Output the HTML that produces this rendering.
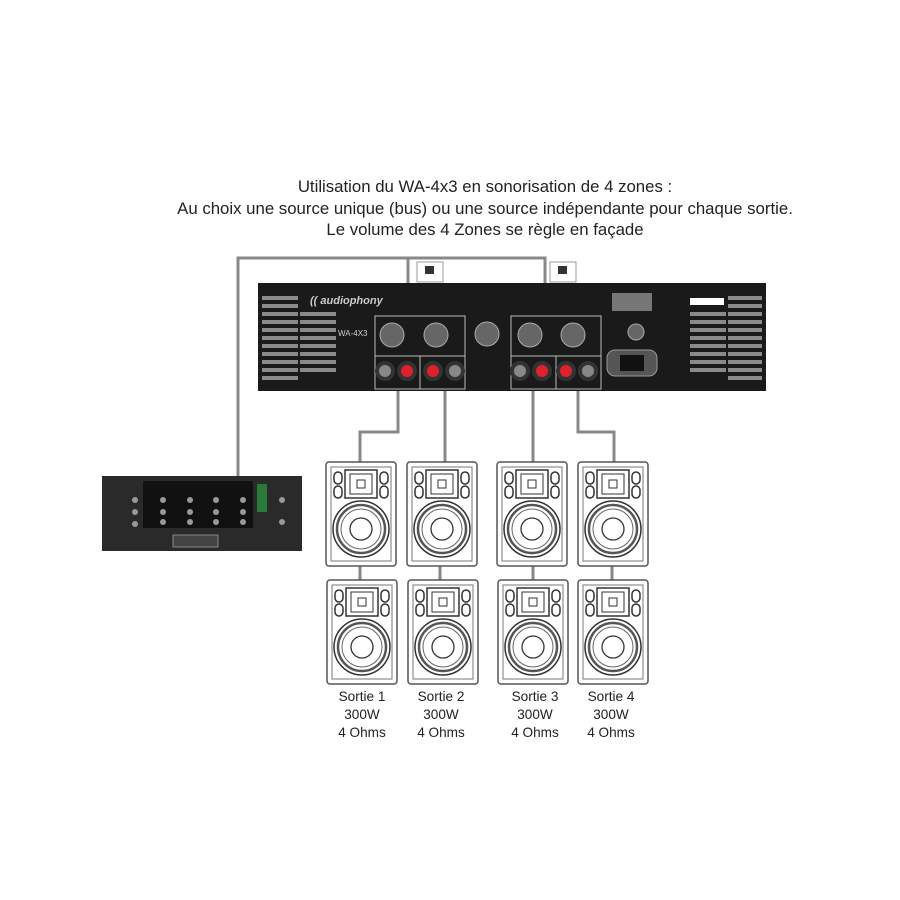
<!DOCTYPE html>
<html><head><meta charset="utf-8"><style>
body{margin:0;background:#fff;}
svg{display:block;font-family:"Liberation Sans",sans-serif;}
</style></head><body>
<svg width="900" height="900" viewBox="0 0 900 900">
<defs>
<g id="spk">
<rect x="0" y="0" width="70" height="104" rx="3" fill="#fff" stroke="#555" stroke-width="1.5"/>
<rect x="5" y="5" width="60" height="94" fill="none" stroke="#777" stroke-width="1"/>
<rect x="19" y="8" width="32" height="28" fill="none" stroke="#333" stroke-width="1.5"/>
<rect x="24" y="12" width="22" height="20" fill="none" stroke="#333" stroke-width="1"/>
<rect x="31" y="18" width="8" height="8" fill="none" stroke="#333" stroke-width="1"/>
<rect x="8" y="10" width="8" height="12" rx="4" fill="none" stroke="#333" stroke-width="1.5"/>
<rect x="8" y="24" width="8" height="12" rx="4" fill="none" stroke="#333" stroke-width="1.5"/>
<rect x="54" y="10" width="8" height="12" rx="4" fill="none" stroke="#333" stroke-width="1.5"/>
<rect x="54" y="24" width="8" height="12" rx="4" fill="none" stroke="#333" stroke-width="1.5"/>
<circle cx="35" cy="67" r="28" fill="none" stroke="#333" stroke-width="1.5"/>
<circle cx="35" cy="67" r="24" fill="none" stroke="#555" stroke-width="2.5"/>
<circle cx="35" cy="67" r="20" fill="none" stroke="#666" stroke-width="1"/>
<circle cx="35" cy="67" r="11" fill="none" stroke="#333" stroke-width="1.3"/>
</g>
</defs>
<g font-size="16.8" fill="#222" text-anchor="middle">
<text x="485" y="192">Utilisation du WA-4x3 en sonorisation de 4 zones :</text>
<text x="485" y="214">Au choix une source unique (bus) ou une source indépendante pour chaque sortie.</text>
<text x="485" y="235">Le volume des 4 Zones se règle en façade</text>
</g>
<!-- wires -->
<g fill="none" stroke="#888" stroke-width="3">
<path d="M238 478 V258 H408 V318"/>
<path d="M408 258 H545 V318"/>
<path d="M398 391 V432 H360 V462"/>
<path d="M445 391 V462"/>
<path d="M533 391 V462"/>
<path d="M578 391 V432 H614 V462"/>
<path d="M360 566 V580 M440 566 V580 M533 566 V580 M612 566 V580"/>
</g>
<!-- switches -->
<rect x="417" y="262" width="26" height="20" fill="#fff" stroke="#999"/>
<rect x="425" y="266" width="9" height="8" fill="#333"/>
<rect x="550" y="262" width="26" height="20" fill="#fff" stroke="#999"/>
<rect x="558" y="266" width="9" height="8" fill="#333"/>
<!-- amp -->
<rect x="258" y="283" width="508" height="108" fill="#1a1a1a"/>
<g fill="#8a8a8a">
<rect x="262" y="296" width="36" height="4"/><rect x="262" y="304" width="36" height="4"/><rect x="262" y="312" width="36" height="4"/><rect x="262" y="320" width="36" height="4"/><rect x="262" y="328" width="36" height="4"/><rect x="262" y="336" width="36" height="4"/><rect x="262" y="344" width="36" height="4"/><rect x="262" y="352" width="36" height="4"/><rect x="262" y="360" width="36" height="4"/><rect x="262" y="368" width="36" height="4"/><rect x="262" y="376" width="36" height="4"/>
<rect x="300" y="312" width="36" height="4"/><rect x="300" y="320" width="36" height="4"/><rect x="300" y="328" width="36" height="4"/><rect x="300" y="336" width="36" height="4"/><rect x="300" y="344" width="36" height="4"/><rect x="300" y="352" width="36" height="4"/><rect x="300" y="360" width="36" height="4"/><rect x="300" y="368" width="36" height="4"/>
<rect x="690" y="312" width="36" height="4"/><rect x="690" y="320" width="36" height="4"/><rect x="690" y="328" width="36" height="4"/><rect x="690" y="336" width="36" height="4"/><rect x="690" y="344" width="36" height="4"/><rect x="690" y="352" width="36" height="4"/><rect x="690" y="360" width="36" height="4"/><rect x="690" y="368" width="36" height="4"/>
<rect x="728" y="296" width="34" height="4"/><rect x="728" y="304" width="34" height="4"/><rect x="728" y="312" width="34" height="4"/><rect x="728" y="320" width="34" height="4"/><rect x="728" y="328" width="34" height="4"/><rect x="728" y="336" width="34" height="4"/><rect x="728" y="344" width="34" height="4"/><rect x="728" y="352" width="34" height="4"/><rect x="728" y="360" width="34" height="4"/><rect x="728" y="368" width="34" height="4"/><rect x="728" y="376" width="34" height="4"/>
</g>
<rect x="690" y="298" width="34" height="7" fill="#fff"/>
<text x="310" y="304" font-size="11" font-weight="bold" font-style="italic" fill="#ccc">(( audiophony</text>
<text x="338" y="336" font-size="8" fill="#ccc">WA-4X3</text>
<g fill="none" stroke="#bbb" stroke-width="1">
<rect x="375" y="316" width="90" height="40"/><rect x="375" y="356" width="45" height="33"/><rect x="420" y="356" width="45" height="33"/>
<rect x="511" y="316" width="90" height="40"/><rect x="511" y="356" width="45" height="33"/><rect x="556" y="356" width="45" height="33"/>
</g>
<g fill="#666" stroke="#aaa">
<circle cx="392" cy="335" r="12"/><circle cx="436" cy="335" r="12"/><circle cx="487" cy="334" r="12"/><circle cx="530" cy="335" r="12"/><circle cx="573" cy="335" r="12"/>
<circle cx="636" cy="332" r="8"/>
</g>
<g stroke="#333" stroke-width="4">
<circle cx="385" cy="371" r="8" fill="#888"/><circle cx="407" cy="371" r="8" fill="#e0202a"/>
<circle cx="433" cy="371" r="8" fill="#e0202a"/><circle cx="455" cy="371" r="8" fill="#888"/>
<circle cx="520" cy="371" r="8" fill="#888"/><circle cx="542" cy="371" r="8" fill="#e0202a"/>
<circle cx="566" cy="371" r="8" fill="#e0202a"/><circle cx="588" cy="371" r="8" fill="#888"/>
</g>
<rect x="607" y="350" width="50" height="26" rx="8" fill="#555" stroke="#999"/>
<rect x="620" y="355" width="24" height="16" fill="#111"/>
<rect x="612" y="293" width="40" height="18" fill="#777"/>
<!-- speakers -->
<use href="#spk" x="326" y="462"/><use href="#spk" x="407" y="462"/><use href="#spk" x="497" y="462"/><use href="#spk" x="578" y="462"/>
<use href="#spk" x="327" y="580"/><use href="#spk" x="408" y="580"/><use href="#spk" x="498" y="580"/><use href="#spk" x="578" y="580"/>
<!-- mixer -->
<rect x="102" y="476" width="200" height="75" fill="#2a2a2a"/>
<rect x="143" y="481" width="110" height="47" fill="#111"/>
<g fill="#999"><circle cx="135" cy="500" r="3"/><circle cx="135" cy="512" r="3"/><circle cx="135" cy="524" r="3"/><circle cx="163" cy="500" r="3"/><circle cx="163" cy="512" r="3"/><circle cx="163" cy="522" r="3"/><circle cx="190" cy="500" r="3"/><circle cx="190" cy="512" r="3"/><circle cx="190" cy="522" r="3"/><circle cx="216" cy="500" r="3"/><circle cx="216" cy="512" r="3"/><circle cx="216" cy="522" r="3"/><circle cx="243" cy="500" r="3"/><circle cx="243" cy="512" r="3"/><circle cx="243" cy="522" r="3"/><circle cx="282" cy="500" r="3"/><circle cx="282" cy="522" r="3"/></g>
<rect x="257" y="484" width="10" height="28" fill="#2a7a3a"/>
<rect x="173" y="535" width="45" height="12" fill="#444" stroke="#888"/>
<!-- labels -->
<g font-size="13.6" fill="#222" text-anchor="middle">
<text x="362" y="701">Sortie 1</text><text x="362" y="719">300W</text><text x="362" y="737">4 Ohms</text>
<text x="441" y="701">Sortie 2</text><text x="441" y="719">300W</text><text x="441" y="737">4 Ohms</text>
<text x="535" y="701">Sortie 3</text><text x="535" y="719">300W</text><text x="535" y="737">4 Ohms</text>
<text x="611" y="701">Sortie 4</text><text x="611" y="719">300W</text><text x="611" y="737">4 Ohms</text>
</g>
</svg>
</body></html>
